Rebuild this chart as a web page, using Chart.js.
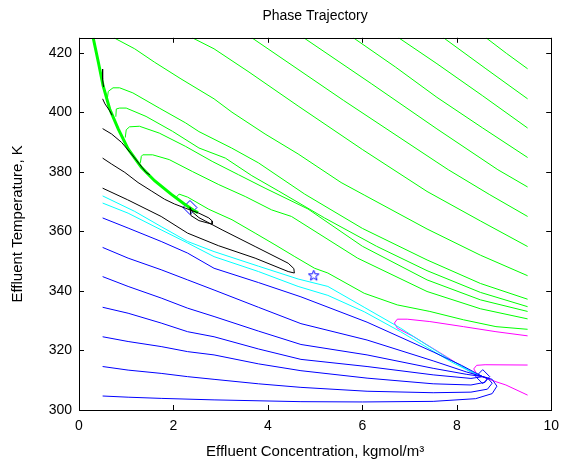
<!DOCTYPE html>
<html>
<head>
<meta charset="utf-8">
<script src="https://cdn.jsdelivr.net/npm/chart.js@4"></script>
<style>
  html, body { margin: 0; padding: 0; background: #fff; }
  #wrap { width: 567px; height: 475px; }
</style>
</head>
<body>
<div id="wrap"><canvas id="chart" width="567" height="475"></canvas></div>
<script>
// ---- data: [concentration, temperature] ----
const xTicks = [0, 2, 4, 6, 8, 10];
const yTicks = [300, 320, 340, 360, 380, 400, 420];

// thick separatrix that the upper trajectories run down
const separatrix = [[0.30,425],[0.41,416.8],[0.51,408.9],[0.65,401.1],[0.83,394.4],[1.04,387.7],[1.32,381.5],[1.60,377.0],[1.95,372.5],[2.23,369.2],[2.44,366.9],[2.52,366.3]];

// green: started at the right edge, run out through the top
const green1 = [[8.62,425],[9.05,419.8],[9.5,414.6]];
const green2 = [[7.72,425],[8.6,414.8],[9.5,404.5]];
const green3 = [[6.77,425],[7.58,416.3],[8.55,405.5],[9.5,394.7]];
const green4 = [[5.81,425],[6.7,415.2],[7.58,405.0],[8.55,394.7],[9.5,384.8]];
const green5 = [[4.76,425],[6.2,409.5],[7.58,394.4],[8.87,380.7],[9.5,374.9]];
const green6 = [[3.66,425],[5.6,404],[7.58,383.2],[7.82,380.7],[8.7,372.3],[9.5,365.0]];
const green7 = [[2.40,425],[2.86,421.3],[3.6,413.5],[4.64,402.1],[6.0,387.5],[7.37,373.4],[8.5,363.5],[9.5,354.9]];
const green8 = [[0.74,425],[1.18,421.3],[1.60,416.8],[2.16,411.2],[2.86,404.5],[3.24,400.0],[3.94,392.7],[4.64,386.0],[5.55,376.4],[6.04,372.2],[7.37,360.8],[8.5,352],[9.5,345.1]];
// green: turn back at the left and fall onto the separatrix
const hook1 = [[0.60,404.5],[0.62,407.0],[0.72,408.2],[0.86,408.2],[1.14,406.5],[1.70,401.4],[2.26,396.4],[2.54,393.5],[3.23,388.0],[3.80,383.0],[4.78,372.5],[6.0,361],[7.37,350.4],[8.5,342.5],[9.5,337.2]];
const hook2 = [[0.78,398.5],[0.79,401.1],[0.86,401.4],[1.00,401.4],[1.42,398.6],[1.98,393.6],[2.54,388.0],[3.10,384.6],[3.66,378.7],[4.22,373.6],[5.2,364.5],[6.3,355],[7.37,346.8],[8.5,339.5],[9.5,334.7]];
const hook3 = [[0.98,391.5],[1.00,394.1],[1.07,395.1],[1.28,395.3],[1.70,393.0],[2.26,388.5],[2.82,383.5],[3.38,379.0],[3.94,374.5],[4.85,367.5],[6.0,355],[7.37,343.7],[8.5,337],[9.5,333.1]];
const hook4 = [[1.30,383.0],[1.32,385.2],[1.35,385.7],[1.56,385.7],[1.91,384.1],[2.40,380.1],[2.96,375.7],[3.52,371.7],[4.08,367.2],[4.50,365.0],[5.9,351],[7.37,339.8],[8.5,334],[9.5,330.6]];
const hook5 = [[2.05,371.3],[2.12,372.5],[2.30,371.5],[2.75,367.4],[3.24,363.9],[3.73,359.4],[4.15,355.5],[4.57,351.5],[4.99,347.6],[5.27,346.0],[6.04,339.2],[6.74,335.3],[7.43,333.1],[8.14,330.3],[8.83,328.0],[9.5,327.1]];

// black: from the left edge to the upper steady state
const black1 = [[0.5,414.5],[0.5,411],[0.52,408.5]];
const black2 = [[0.5,404.5],[0.55,402.8],[0.65,400.5],[0.70,399.0]];
const black3 = [[0.5,394.5],[0.69,392.7],[0.90,389.9],[1.11,386.0],[1.28,382.6],[1.42,379.8],[1.5,379.0]];
const black4 = [[0.5,384.6],[0.69,382.6],[0.97,379.8],[1.25,376.4],[1.53,373.6],[1.81,370.8],[2.02,369.2],[2.25,367.8],[2.54,366.1],[2.75,364.5],[2.82,363.5],[2.82,362.4],[2.54,363.6],[2.37,365.3],[2.35,368]];
const black5 = [[0.5,374.5],[1.03,370.6],[1.74,365.0],[2.30,359.4],[2.95,355.2],[3.73,351.0],[4.43,346.5],[4.56,346.0],[4.55,347.5],[4.43,349.3],[3.73,354.9],[3.03,360.5],[2.54,364.6],[2.40,366.5],[2.35,368]];

// cyan
const cyan1 = [[0.5,371.9],[1.18,366.7],[1.74,361.6],[2.30,356.6],[2.86,353.2],[3.8,348.3],[4.64,344.0],[5.27,341.5],[6.04,334.5],[6.81,327.5],[7.37,321.8],[7.9,316.5],[8.3,313],[8.55,311.2]];
const cyan2 = [[0.5,369.5],[1.04,366.1],[1.74,360.5],[2.30,356.1],[2.86,351.5],[3.8,346.5],[4.64,341.5],[5.27,338.5],[6.04,333.0],[6.81,326.3],[7.37,321.0],[7.9,316.0],[8.3,312.8],[8.55,311.2]];

// blue: from the left edge to the lower steady state
const blue1 = [[0.5,364.5],[1.04,361.1],[1.74,356.6],[2.30,352.7],[2.86,347.6],[3.8,342.8],[4.7,338],[6.1,329.5],[7.5,319.5],[8.1,315],[8.55,311.2]];
const blue2 = [[0.5,354.6],[1.04,351.0],[1.74,347.1],[2.30,343.7],[2.86,340.3],[3.8,334.5],[4.7,329],[6.1,323.5],[7.5,316.5],[8.2,312.8],[8.55,311.2]];
const blue3 = [[0.5,344.8],[1.04,341.5],[1.74,337.6],[2.30,334.2],[2.86,331.4],[3.8,326.5],[4.7,322],[6.1,318.5],[7.5,314],[8.2,312],[8.55,311.2]];
const blue4 = [[0.5,334.5],[1.04,332.5],[1.74,329.2],[2.30,326.3],[2.86,324.6],[3.8,320.5],[4.7,317.0],[6.1,314.6],[7.5,311.8],[8.3,310.6],[8.55,311.2]];
const blue5 = [[0.5,324.6],[1.04,323.0],[1.74,321.3],[2.30,319.6],[2.86,318.5],[3.8,315.5],[4.7,313.2],[6.1,310.7],[7.5,308.8],[8.3,308.4],[8.6,309.3],[8.65,310.5],[8.55,311.2]];
const blue6 = [[0.5,314.6],[1.04,313.4],[1.74,312.3],[2.30,311.2],[2.86,310.3],[3.8,308.8],[4.7,307.6],[6.1,306.3],[7.5,305.8],[8.3,306.0],[8.65,307],[8.75,309],[8.65,310.8],[8.55,311.2]];
const blue7 = [[0.5,304.7],[1.04,304.3],[1.74,303.9],[2.86,303.4],[4.7,302.8],[6.0,302.7],[7.5,302.9],[8.4,303.8],[8.75,305.5],[8.85,308],[8.75,310.3],[8.55,311.2]];

// magenta: from the right edge to the lower steady state
const magenta1 = [[9.5,324.9],[8.83,326.3],[8.14,328.0],[7.43,329.7],[6.95,330.5],[6.74,330.5],[6.68,329.2],[6.74,327.5],[7.09,324.6],[7.78,317.9],[8.41,311.6],[8.55,311.2]];
const magenta2 = [[9.5,315.1],[8.6,315.2],[8.42,315.0],[8.36,313.8],[8.42,312.2],[8.55,311.2]];
const magenta3 = [[8.5,311.4],[8.83,309.5],[9.04,308.4],[9.5,305.0]];

// steady states: stable (diamonds) and saddle (star)
const stablePoints = [[2.35,368.0],[8.55,311.2]];
const saddlePoints = [[4.97,345.1]];

const FONT = "'Liberation Sans', Arial, sans-serif";

function pts(arr) {
  return arr.map(p => ({ x: p[0], y: p[1] }));
}

function line(arr, color, width) {
  return {
    data: pts(arr),
    showLine: true,
    borderColor: color,
    backgroundColor: color,
    borderWidth: width || 1,
    pointRadius: 0,
    pointHoverRadius: 0,
    tension: 0,
    fill: false,
  };
}

// MATLAB style pentagram marker
function makeStar(size, color) {
  const c = document.createElement("canvas");
  c.width = size;
  c.height = size;
  const g = c.getContext("2d");
  const R = size / 2 - 1;
  const r = R * 0.42;
  g.beginPath();
  for (let i = 0; i < 10; i++) {
    const a = -Math.PI / 2 + (i * Math.PI) / 5;
    const rad = i % 2 ? r : R;
    g.lineTo(size / 2 + rad * Math.cos(a), size / 2 + rad * Math.sin(a));
  }
  g.closePath();
  g.strokeStyle = color;
  g.lineWidth = 1;
  g.stroke();
  return c;
}

const datasets = [];
[blue1, blue2, blue3, blue4, blue5, blue6, blue7].forEach(d => datasets.push(line(d, "#0000ff")));
[cyan1, cyan2].forEach(d => datasets.push(line(d, "#00ffff")));
[black1, black2, black3, black4, black5].forEach(d => datasets.push(line(d, "#000000")));
[green1, green2, green3, green4, green5, green6, green7, green8, hook1, hook2, hook3, hook4, hook5].forEach(d => datasets.push(line(d, "#00ff00")));
datasets.push(line(separatrix, "#00ff00", 3));
[magenta1, magenta2, magenta3].forEach(d => datasets.push(line(d, "#ff00ff")));
datasets.push({
  data: pts(stablePoints),
  showLine: false,
  pointStyle: "rectRot",
  pointRadius: 7,
  pointBorderWidth: 1,
  pointBorderColor: "#0000ff",
  pointBackgroundColor: "rgba(0,0,0,0)",
});
datasets.push({
  data: pts(saddlePoints),
  showLine: false,
  pointStyle: makeStar(13, "#0000ff"),
  pointRadius: 6,
});

// box round the axes and inward ticks on all four sides
const boxTicks = {
  id: "boxTicks",
  afterDatasetsDraw(chart) {
    const { ctx, chartArea: a, scales } = chart;
    const L = 5;
    ctx.save();
    ctx.strokeStyle = "#000";
    ctx.lineWidth = 1;
    ctx.beginPath();
    scales.x.ticks.forEach(t => {
      const px = Math.round(scales.x.getPixelForValue(t.value)) + 0.5;
      ctx.moveTo(px, a.bottom); ctx.lineTo(px, a.bottom - L);
      ctx.moveTo(px, a.top); ctx.lineTo(px, a.top + L);
    });
    scales.y.ticks.forEach(t => {
      const py = Math.round(scales.y.getPixelForValue(t.value)) + 0.5;
      ctx.moveTo(a.left, py); ctx.lineTo(a.left + L, py);
      ctx.moveTo(a.right, py); ctx.lineTo(a.right - L, py);
    });
    ctx.stroke();
    ctx.strokeRect(Math.round(a.left) + 0.5, Math.round(a.top) + 0.5, Math.round(a.right - a.left), Math.round(a.bottom - a.top));
    ctx.restore();
  },
};

new Chart(document.getElementById("chart"), {
  type: "scatter",
  data: { datasets: datasets },
  options: {
    responsive: false,
    animation: false,
    events: [],
    layout: { padding: { left: 0, right: 15, top: 0, bottom: 0 } },
    plugins: {
      legend: { display: false },
      tooltip: { enabled: false },
      title: {
        display: true,
        text: "Phase Trajectory",
        fullSize: false,
        color: "#000",
        font: { family: FONT, size: 14, weight: "normal" },
        padding: { top: 8, bottom: 13 },
      },
    },
    scales: {
      x: {
        type: "linear",
        min: 0,
        max: 10,
        afterBuildTicks: s => { s.ticks = xTicks.map(v => ({ value: v })); },
        afterFit: s => { s.height = 65; },
        grid: { display: false, drawTicks: false },
        border: { display: false },
        ticks: { color: "#000", padding: 8, maxRotation: 0, font: { family: FONT, size: 14 } },
        title: {
          display: true,
          text: "Effluent Concentration, kgmol/m³",
          color: "#000",
          font: { family: FONT, size: 15 },
          padding: { top: 0, bottom: 14 },
        },
      },
      y: {
        type: "linear",
        min: 300,
        max: 425,
        afterBuildTicks: s => { s.ticks = yTicks.map(v => ({ value: v })); },
        afterFit: s => { s.width = 79; },
        grid: { display: false, drawTicks: false },
        border: { display: false },
        ticks: { color: "#000", padding: 7, font: { family: FONT, size: 14 } },
        title: {
          display: true,
          text: "Effluent Temperature, K",
          color: "#000",
          font: { family: FONT, size: 15 },
          padding: { top: 9, bottom: 0 },
        },
      },
    },
  },
  plugins: [boxTicks],
});
</script>
</body>
</html>
